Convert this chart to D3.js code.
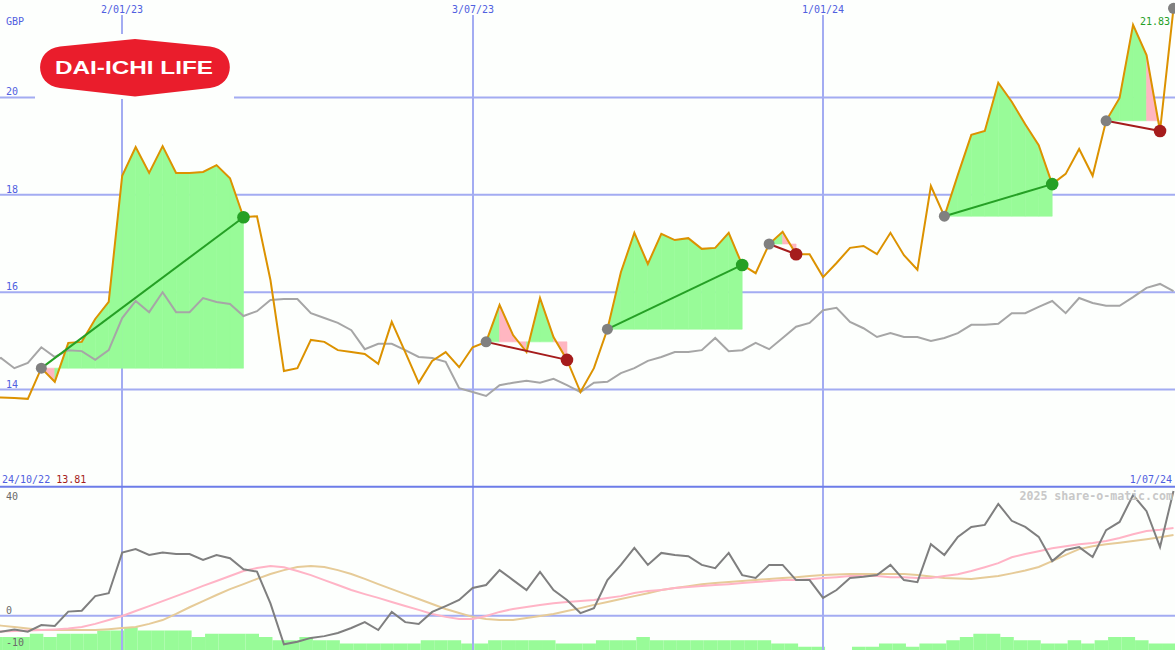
<!DOCTYPE html>
<html><head><meta charset="utf-8">
<script src="https://cdn.jsdelivr.net/npm/d3@7"></script>
<style>html,body{margin:0;padding:0;background:#fdfffd;}svg{display:block;}</style>
</head><body>
<svg id="c" width="1175" height="650"></svg>
<script>
// ---------- data ----------
const startDate = "2022-10-24";           // first weekly close
const endDate = "2024-07-01";
const price = [13.81,13.84,13.83,13.81,14.44,14.16,14.96,14.98,15.45,15.80,
18.39,18.98,18.45,19.00,18.45,18.45,18.47,18.61,18.34,17.54,
17.56,16.25,14.38,14.44,15.02,14.98,14.81,14.77,14.73,14.53,
15.39,14.77,14.14,14.59,14.77,14.46,14.87,14.98,15.74,15.12,
14.77,15.88,15.08,14.61,13.95,14.44,15.24,16.41,17.22,16.58,
17.20,17.07,17.11,16.89,16.91,17.22,16.56,16.39,16.99,17.24,
16.78,16.78,16.31,16.60,16.91,16.95,16.78,17.22,16.76,16.46,
18.18,17.56,18.41,19.23,19.31,20.30,19.91,19.45,19.02,18.22,
18.43,18.94,18.39,19.52,19.99,21.49,20.87,19.31,21.83];
const relative = [14.55,14.65,14.44,14.55,14.87,14.67,14.81,14.79,14.61,14.81,
15.47,15.82,15.59,16.00,15.59,15.59,15.88,15.80,15.76,15.51,
15.61,15.84,15.86,15.86,15.57,15.47,15.37,15.22,14.83,14.94,
14.94,14.81,14.67,14.65,14.57,14.03,13.95,13.87,14.09,14.14,
14.18,14.14,14.22,14.09,13.95,14.14,14.16,14.34,14.44,14.59,
14.67,14.77,14.77,14.81,15.06,14.79,14.81,14.96,14.83,15.06,
15.29,15.37,15.63,15.68,15.39,15.26,15.08,15.16,15.08,15.08,
15.00,15.06,15.16,15.33,15.33,15.35,15.57,15.57,15.70,15.82,
15.57,15.88,15.78,15.72,15.72,15.90,16.09,16.17,16.02];
const oscillator = [-6,-5.5,-4.7,-5.5,-3.2,-3.5,1.4,1.7,6.7,7.7,
21.6,22.8,20.8,21.6,21.1,21.1,19.1,20.8,19.7,15.9,
15.1,4.2,-9.8,-8.9,-7.6,-7.0,-5.9,-4.2,-2.2,-4.9,
1.3,-2.2,-2.8,1.3,3.3,5.4,9.5,10.5,15.6,12.2,
8.8,15.0,8.8,5.4,0.9,2.6,12.2,17.4,23.2,17.4,
21.5,20.8,20.4,17.4,16.3,21.5,13.9,12.9,17.4,17.4,
12.2,12.2,6.1,8.8,12.9,13.3,13.9,17.4,12.2,11.5,
24.5,20.8,27.0,30.4,31.1,38.3,32.5,30.4,27.0,18.7,
22.5,23.5,20.1,29.3,32.1,41.3,35.8,23.5,42.7];
const avgFast = [-5.6,-5.4,-5.2,-5.1,-4.9,-4.7,-4.4,-3.9,-2.8,-1.5,
-0.1,1.6,3.3,5.0,6.7,8.4,10.2,11.9,13.6,15.3,
16.3,17.0,16.6,15.3,13.9,12.2,10.5,8.8,7.4,6.1,
4.7,3.3,2.0,0.6,-0.4,-1.1,-1.1,-0.1,1.3,2.3,
3.0,3.7,4.3,4.7,5.0,5.4,6.1,6.7,7.8,8.5,
8.8,9.5,9.8,10.2,10.5,10.8,11.2,11.5,11.9,12.2,
12.2,12.5,12.9,13.2,13.6,13.6,13.6,13.2,13.2,12.9,
12.9,13.6,14.2,15.3,16.6,18.0,20.0,21.1,22.1,23.1,
23.8,24.5,24.9,25.6,26.6,27.9,29.0,29.4,30.0];
const avgSlow = [-2.8,-3.4,-3.9,-4.4,-4.9,-4.9,-4.9,-4.9,-4.9,-4.6,
-4.2,-3.9,-2.8,-1.5,0.6,2.9,5.0,7.1,9.1,10.8,
12.6,14.3,15.6,16.7,17.0,16.7,15.6,14.3,12.6,10.8,
9.1,7.4,5.7,4.0,2.3,0.9,-0.4,-1.1,-1.5,-1.5,
-0.8,-0.1,0.6,1.6,2.6,3.7,4.7,5.7,6.7,7.7,
8.8,9.5,10.1,10.8,11.2,11.5,11.9,12.2,12.6,12.9,
13.2,13.6,13.9,14.1,14.3,14.3,14.3,14.3,14.3,13.9,
13.4,12.9,12.7,12.6,13.1,13.6,14.5,15.5,16.7,18.7,
20.8,22.8,23.8,24.5,25.0,25.6,26.2,26.9,27.6];
const volumeLevels = [4,4,4,5,4,5,5,5,6,6,
7,6,6,6,6,4,5,5,5,5,
4,3,3,4,3,3,2,2,2,2,
2,2,3,3,3,2,2,3,3,3,
3,3,2,2,2,3,3,3,4,3,
3,3,3,3,3,3,3,3,2,2,
1,1,0,0,1,1,2,2,1,2,
2,3,4,5,5,4,3,3,2,2,
3,2,3,4,4,3,2,2,2];
const gridDates = ["2023-01-02","2023-07-03","2024-01-01"];
const gridLabels = ["2/01/23","3/07/23","1/01/24"];
const priceTicks = [14,16,18,20];
const lowerTicks = [40,0,-10];
const tradeEntries = ["2022-11-21","2023-07-10","2023-09-11","2023-12-04","2024-03-04","2024-05-27"];
const tradeExits   = ["2023-03-06","2023-08-21","2023-11-20","2023-12-18","2024-04-29","2024-06-24"];
const pinkSegments = ["2022-11-21","2023-07-17","2023-07-24","2023-08-14","2023-12-11","2024-06-17"];
const startLabel = "24/10/22", startValue = "13.81";
const endLabel = "1/07/24", lastValue = "21.83";
const currency = "GBP";
const watermark = "2025 share-o-matic.com";
const logoText = "DAI-ICHI LIFE";

// ---------- setup ----------
const W = 1175, H = 650;
const svg = d3.select("#c");
const parse = d3.utcParse("%Y-%m-%d");
const d0 = parse(startDate);
const dates = price.map((_, i) => d3.utcDay.offset(d0, 7 * i));
const key = d => d3.utcFormat("%Y-%m-%d")(d);
const idx = new Map(dates.map((d, i) => [key(d), i]));

const x = d3.scaleUtc().domain([d0, parse(endDate)]).range([-12.6, 1173.5]);
const y = d3.scaleLinear().domain([12, 22]).range([487, 0]);
const yl = d3.scaleLinear().domain([-10, 40]).range([644.9, 498.9]);
const yv = d3.scaleLinear().domain([0, 10]).range([650, 617.5]);

const C = {
  grid: "#a3acf2", divider: "#6c7ce8", label: "#5060e0",
  price: "#dc9200", rel: "#a6a6a6", osc: "#7f7f7f",
  fast: "#ffb4c6", slow: "#e6cb98", green: "#98fb98", pink: "#ffb6c1",
  win: "#25a025", loss: "#a51c1c", entry: "#808080"
};
const mono = "'DejaVu Sans Mono', monospace";

svg.append("rect").attr("width", W).attr("height", H).attr("fill", "#fdfffd");

// volume bars
svg.append("g").selectAll("rect").data(volumeLevels).join("rect")
  .attr("x", (d, i) => x(dates[i]) + 2)
  .attr("width", 13.5)
  .attr("y", d => yv(d))
  .attr("height", d => yv(0) - yv(d))
  .attr("fill", C.green);

// grid lines
const gv = svg.append("g");
gridDates.forEach((g, i) => {
  const gx = Math.round(x(parse(g)));
  gv.append("line").attr("x1", gx).attr("x2", gx).attr("y1", 15).attr("y2", H)
    .attr("stroke", C.grid).attr("stroke-width", 2);
  gv.append("text").attr("x", gx).attr("y", 12.5).attr("text-anchor", "middle")
    .attr("font-family", mono).attr("font-size", 10).attr("fill", C.label).text(gridLabels[i]);
});
priceTicks.forEach(t => {
  gv.append("line").attr("x1", 0).attr("x2", W).attr("y1", y(t)).attr("y2", y(t))
    .attr("stroke", C.grid).attr("stroke-width", 2);
  gv.append("text").attr("x", 6).attr("y", y(t) - 2).attr("font-family", mono)
    .attr("font-size", 10).attr("fill", C.label).text(t);
});
gv.append("line").attr("x1", 0).attr("x2", W).attr("y1", yl(0)).attr("y2", yl(0))
  .attr("stroke", C.grid).attr("stroke-width", 2);
gv.append("line").attr("x1", 0).attr("x2", W).attr("y1", 486.7).attr("y2", 486.7)
  .attr("stroke", C.divider).attr("stroke-width", 2);
lowerTicks.forEach(t => {
  gv.append("text").attr("x", 6).attr("y", yl(t) + (t === 0 ? -2 : 1))
    .attr("font-family", mono).attr("font-size", 10).attr("fill", "#6a6a6a").text(t);
});

// trade fills
const fills = svg.append("g");
const pinkSet = new Set(pinkSegments);
tradeEntries.forEach((e, t) => {
  const a = idx.get(e), b = idx.get(tradeExits[t]);
  const ye = y(price[a]);
  for (let k = a; k < b; k++) {
    const pts = [[x(dates[k]), ye], [x(dates[k]), y(price[k])],
                 [x(dates[k + 1]), y(price[k + 1])], [x(dates[k + 1]), ye]];
    const col = pinkSet.has(key(dates[k])) ? C.pink : C.green;
    fills.append("path").attr("d", d3.line()(pts) + "Z")
      .attr("fill", col).attr("stroke", col).attr("stroke-width", 0.6);
  }
});

// lines
const lineP = d3.line().x((d, i) => x(dates[i])).y(d => y(d));
const lineL = d3.line().x((d, i) => x(dates[i])).y(d => yl(d));
svg.append("path").attr("d", lineP(relative)).attr("fill", "none").attr("stroke", C.rel).attr("stroke-width", 2);
svg.append("path").attr("d", lineL(avgSlow)).attr("fill", "none").attr("stroke", C.slow).attr("stroke-width", 2);
svg.append("path").attr("d", lineL(avgFast)).attr("fill", "none").attr("stroke", C.fast).attr("stroke-width", 2);
svg.append("path").attr("d", lineL(oscillator)).attr("fill", "none").attr("stroke", C.osc).attr("stroke-width", 2);
svg.append("path").attr("d", lineP(price)).attr("fill", "none").attr("stroke", C.price).attr("stroke-width", 2);

// trades
const tg = svg.append("g");
tradeEntries.forEach((e, t) => {
  const a = idx.get(e), b = idx.get(tradeExits[t]);
  const win = price[b] >= price[a];
  const col = win ? C.win : C.loss;
  tg.append("line").attr("x1", x(dates[a])).attr("y1", y(price[a]))
    .attr("x2", x(dates[b])).attr("y2", y(price[b])).attr("stroke", col).attr("stroke-width", 2);
  tg.append("circle").attr("cx", x(dates[a])).attr("cy", y(price[a])).attr("r", 5.5).attr("fill", C.entry);
  tg.append("circle").attr("cx", x(dates[b])).attr("cy", y(price[b])).attr("r", 6.3).attr("fill", col);
});
const li = price.length - 1;
tg.append("circle").attr("cx", x(dates[li])).attr("cy", y(price[li])).attr("r", 5.5).attr("fill", C.entry);

// texts
svg.append("text").attr("x", 6).attr("y", 25).attr("font-family", mono).attr("font-size", 10)
  .attr("fill", C.label).text(currency);
svg.append("text").attr("x", 1170).attr("y", 25).attr("text-anchor", "end").attr("font-family", mono)
  .attr("font-size", 10).attr("fill", C.win).text(lastValue);
const st = svg.append("text").attr("x", 2).attr("y", 483).attr("font-family", mono).attr("font-size", 10)
  .attr("xml:space", "preserve");
st.append("tspan").attr("fill", C.label).text(startLabel + " ");
st.append("tspan").attr("fill", C.loss).text(startValue);
svg.append("text").attr("x", 1172).attr("y", 483).attr("text-anchor", "end").attr("font-family", mono)
  .attr("font-size", 10).attr("fill", C.label).text(endLabel);
svg.append("text").attr("x", 1173).attr("y", 499.5).attr("text-anchor", "end").attr("font-family", mono)
  .attr("font-size", 11.6).attr("font-weight", "bold").attr("fill", "#c8c8c8").text(watermark);

// logo
const lg = svg.append("g");
lg.append("rect").attr("x", 35).attr("y", 34).attr("width", 199).attr("height", 65).attr("fill", "#fdfffd");
lg.append("path").attr("d", "M60,46.5 L135,39 L210,46.5 C236.5,49.5 236.5,85 210,88 L135,96.5 L60,88 C33.5,85 33.5,49.5 60,46.5 Z")
  .attr("fill", "#ea1d2c");
lg.append("text").attr("x", 55).attr("y", 74).attr("font-family", "'Liberation Sans', Arial, sans-serif")
  .attr("font-weight", "bold").attr("font-size", 18.5).attr("fill", "#ffffff")
  .attr("textLength", 158).attr("lengthAdjust", "spacingAndGlyphs").text(logoText);
</script>
</body></html>
